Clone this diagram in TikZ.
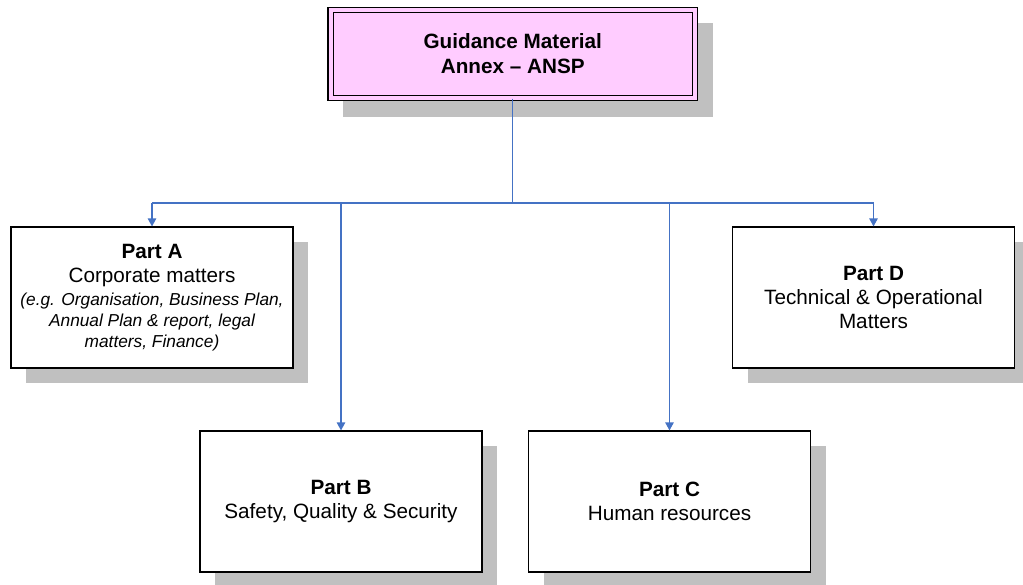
\documentclass[tikz,border=0pt]{standalone}
\usepackage{fontspec}
\setmainfont{Liberation Sans}
\usetikzlibrary{shadows,arrows.meta}
\definecolor{boxpink}{HTML}{FFCCFF}
\definecolor{shadowgray}{HTML}{C0C0C0}
\definecolor{linkblue}{HTML}{4472C4}
\newcommand\mainsz{\fontsize{10.35pt}{12pt}\selectfont}
\newcommand\italsz{\fontsize{8.65pt}{10pt}\selectfont\itshape}
\begin{document}
\begin{tikzpicture}[x=0.5pt,y=-0.5pt,
  partbox/.style={draw=black, line width=0.55pt, fill=white,
    minimum width=141pt, minimum height=70.5pt, inner sep=0pt,
    align=center, font=\mainsz,
    drop shadow={shadow xshift=7.5pt, shadow yshift=-7.5pt, fill=shadowgray, opacity=1}},
  topbox/.style={draw=black, line width=0.6pt, double=boxpink, double distance=2pt,
    fill=boxpink, minimum width=182.25pt, minimum height=44pt, inner sep=0pt,
    align=center, font=\mainsz\bfseries},
  conn/.style={draw=linkblue, line width=0.6pt},
  arr/.style={conn, -{Triangle[length=4pt,width=4.2pt]}}
]
\useasboundingbox (0,0) rectangle (1023,584);
% shadow of top box
\fill[shadowgray] (343,23) rectangle (713,117);
\node[topbox] (top) at (512.75,54) {Guidance Material\\[0.5pt]Annex -- ANSP};

\node[partbox] (A) at (152,297.5) {\textbf{Part A}\\Corporate matters\\[-0.5pt]
  {\italsz (e.g. Organisation, Business Plan,}\\[-1.5pt]
  {\italsz Annual Plan \& report, legal}\\[-1.5pt]
  {\italsz matters, Finance)}};
\node[partbox] (D) at (873.5,297.5) {\textbf{Part D}\\Technical \& Operational\\Matters};
\node[partbox] (B) at (341,501.5) {\textbf{Part B}\\Safety, Quality \& Security};
\node[partbox] (C) at (669.5,501.5) {\textbf{Part C}\\Human resources};

\coordinate (j) at (top.south |- 0,203);
\coordinate (jA) at (A.north |- j);
\coordinate (jB) at (B.north |- j);
\coordinate (jC) at (C.north |- j);
\coordinate (jD) at (D.north |- j);
\draw[conn] (top.south) -- (j);
\draw[conn] (jA) -- (jD);
\draw[arr] (jA) -- (A.north);
\draw[arr] (jD) -- (D.north);
\draw[arr] (jB) -- (B.north);
\draw[arr] (jC) -- (C.north);
\end{tikzpicture}
\end{document}
